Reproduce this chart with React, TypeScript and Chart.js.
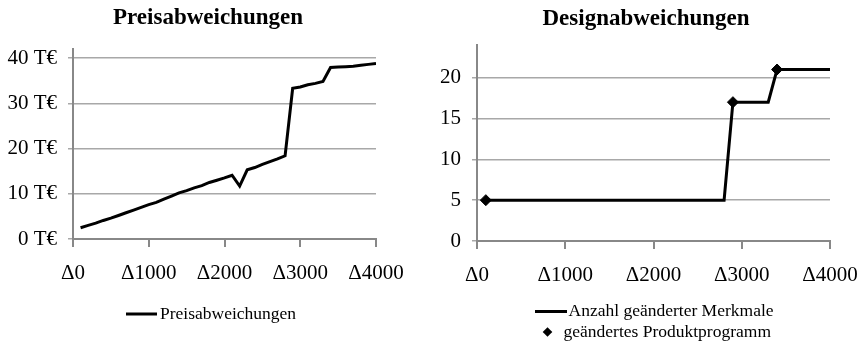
import React, { useEffect, useRef } from "react";
import { Chart, registerables } from "chart.js";

Chart.register(...registerables);

const FONT = "'Liberation Serif', 'Times New Roman', serif";

// ---------- data ----------
const xValues = [
  100, 200, 300, 400, 500, 600, 700, 800, 900, 1000,
  1100, 1200, 1300, 1400, 1500, 1600, 1700, 1800, 1900, 2000,
  2100, 2200, 2300, 2400, 2500, 2600, 2700, 2800, 2900, 3000,
  3100, 3200, 3300, 3400, 3500, 3600, 3700, 3800, 3900, 4000,
];
const priceValues = [
  2.5, 3.0, 3.5, 4.1, 4.6, 5.2, 5.8, 6.4, 7.0, 7.6,
  8.1, 8.8, 9.5, 10.2, 10.7, 11.3, 11.8, 12.5, 13.0, 13.5,
  14.1, 11.7, 15.3, 15.8, 16.5, 17.1, 17.7, 18.4, 33.3, 33.6,
  34.1, 34.4, 34.8, 37.9, 38.0, 38.1, 38.2, 38.4, 38.6, 38.8,
];
const featureValues = [
  5, 5, 5, 5, 5, 5, 5, 5, 5, 5,
  5, 5, 5, 5, 5, 5, 5, 5, 5, 5,
  5, 5, 5, 5, 5, 5, 5, 5, 17, 17,
  17, 17, 17, 21, 21, 21, 21, 21, 21, 21,
];
const programX = [100, 2900, 3400];
const programY = [5, 17, 21];

const xTickValues = [0, 1000, 2000, 3000, 4000];
const priceTickValues = [0, 10, 20, 30, 40];
const featureTickValues = [0, 5, 10, 15, 20];

const leftTitle = "Preisabweichungen";
const rightTitle = "Designabweichungen";
const priceLabel = "Preisabweichungen";
const featureLabel = "Anzahl geänderter Merkmale";
const programLabel = "geändertes Produktprogramm";

// ---------- overlay plugin: title + legend ----------
const overlayPlugin = {
  id: "overlay",
  afterDraw(chart: any, _args: any, opts: any) {
    const ctx = chart.ctx as CanvasRenderingContext2D;
    ctx.save();
    ctx.fillStyle = "#000";
    ctx.font = `bold 23px ${FONT}`;
    ctx.textAlign = "center";
    ctx.textBaseline = "middle";
    ctx.fillText(opts.title, opts.titleX, opts.titleY);
    ctx.font = `17.5px ${FONT}`;
    ctx.textAlign = "left";
    for (const item of opts.items) {
      const ds = chart.data.datasets[item.datasetIndex];
      if (item.kind === "line") {
        ctx.strokeStyle = ds.borderColor;
        ctx.lineWidth = ds.borderWidth;
        ctx.beginPath();
        ctx.moveTo(item.x0, item.y);
        ctx.lineTo(item.x1, item.y);
        ctx.stroke();
      } else {
        const r = item.r;
        ctx.fillStyle = ds.backgroundColor;
        ctx.beginPath();
        ctx.moveTo(item.cx, item.y - r);
        ctx.lineTo(item.cx + r, item.y);
        ctx.lineTo(item.cx, item.y + r);
        ctx.lineTo(item.cx - r, item.y);
        ctx.closePath();
        ctx.fill();
      }
      ctx.fillStyle = "#000";
      ctx.fillText(ds.label, item.textX, item.y);
    }
    ctx.restore();
  },
};

function makeScales(yMax: number, yTicks: number[], yFmt: (v: number) => string, yWidth: number) {
  return {
    x: {
      type: "linear" as const,
      min: 0,
      max: 4000,
      afterBuildTicks: (s: any) => {
        s.ticks = xTickValues.map((v) => ({ value: v }));
      },
      afterFit: (s: any) => {
        s.height = 40;
      },
      ticks: {
        color: "#000",
        font: { family: FONT, size: 21, lineHeight: 2.3 },
        padding: 2,
        maxRotation: 0,
        autoSkip: false,
        callback: (v: any) => "\u0394" + v,
      },
      grid: {
        drawOnChartArea: false,
        drawTicks: true,
        tickLength: 8,
        color: "#888888",
        lineWidth: 2,
      },
      border: { display: true, color: "#888888", width: 2 },
    },
    y: {
      type: "linear" as const,
      min: 0,
      max: yMax,
      afterBuildTicks: (s: any) => {
        s.ticks = yTicks.map((v) => ({ value: v }));
      },
      afterFit: (s: any) => {
        s.width = yWidth;
      },
      ticks: {
        color: "#000",
        font: { family: FONT, size: 21 },
        padding: 11,
        callback: (v: any) => yFmt(Number(v)),
      },
      grid: {
        drawOnChartArea: true,
        drawTicks: true,
        tickLength: 5,
        color: "#a8a8a8",
        lineWidth: 1.5,
      },
      border: { display: true, color: "#888888", width: 2 },
    },
  };
}

function PriceChart() {
  const ref = useRef<HTMLCanvasElement>(null);
  useEffect(() => {
    const chart = new Chart(ref.current as HTMLCanvasElement, {
      type: "line",
      data: {
        datasets: [
          {
            label: priceLabel,
            data: xValues.map((x, i) => ({ x, y: priceValues[i] })),
            borderColor: "#000",
            backgroundColor: "#000",
            borderWidth: 3,
            pointRadius: 0,
            tension: 0,
            fill: false,
          },
        ],
      },
      options: {
        responsive: false,
        animation: false,
        layout: { padding: { left: 0, right: 54, top: 49, bottom: 63 } },
        scales: makeScales(42, priceTickValues, (v) => v + " T\u20ac", 73) as any,
        plugins: {
          legend: { display: false },
          title: { display: false },
          tooltip: { enabled: false },
          overlay: {
            title: leftTitle,
            titleX: 208,
            titleY: 18,
            items: [{ datasetIndex: 0, kind: "line", x0: 126, x1: 157, y: 314, textX: 160 }],
          },
        } as any,
      },
      plugins: [overlayPlugin],
    } as any);
    return () => chart.destroy();
  }, []);
  return (
    <canvas
      ref={ref}
      width={430}
      height={342}
      style={{ position: "absolute", left: 0, top: 0 }}
    />
  );
}

function DesignChart() {
  const ref = useRef<HTMLCanvasElement>(null);
  useEffect(() => {
    const chart = new Chart(ref.current as HTMLCanvasElement, {
      type: "line",
      data: {
        datasets: [
          {
            label: featureLabel,
            data: xValues.map((x, i) => ({ x, y: featureValues[i] })),
            borderColor: "#000",
            backgroundColor: "#000",
            borderWidth: 3,
            pointRadius: 0,
            tension: 0,
            fill: false,
          },
          {
            label: programLabel,
            data: programX.map((x, i) => ({ x, y: programY[i] })),
            showLine: false,
            borderColor: "#000",
            backgroundColor: "#000",
            pointStyle: "rectRot",
            pointRadius: 5.5,
            pointBorderWidth: 1,
          },
        ],
      },
      options: {
        responsive: false,
        animation: false,
        layout: { padding: { left: 0, right: 33, top: 45, bottom: 61 } },
        scales: makeScales(24, featureTickValues, (v) => String(v), 47) as any,
        plugins: {
          legend: { display: false },
          title: { display: false },
          tooltip: { enabled: false },
          overlay: {
            title: rightTitle,
            titleX: 216,
            titleY: 19,
            items: [
              { datasetIndex: 0, kind: "line", x0: 105, x1: 137, y: 311.5, textX: 138.5 },
              { datasetIndex: 1, kind: "point", cx: 117.5, r: 4.8, y: 332, textX: 133.5 },
            ],
          },
        } as any,
      },
      plugins: [overlayPlugin],
    } as any);
    return () => chart.destroy();
  }, []);
  return (
    <canvas
      ref={ref}
      width={433}
      height={342}
      style={{ position: "absolute", left: 430, top: 0 }}
    />
  );
}

export default function App() {
  return (
    <div
      style={{
        position: "absolute",
        left: 0,
        top: 0,
        width: 863,
        height: 342,
        background: "#fff",
        overflow: "hidden",
      }}
    >
      <PriceChart />
      <DesignChart />
    </div>
  );
}
